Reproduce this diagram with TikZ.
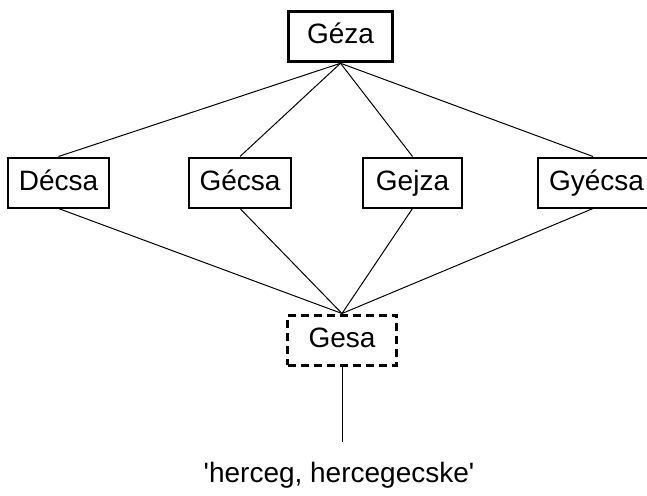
\documentclass[tikz,border=0pt]{standalone}
\usepackage{fontspec}
\setmainfont{Liberation Sans}
\usepackage{tikz}
\usetikzlibrary{positioning}

\begin{document}
\begin{tikzpicture}[x=1pt, y=-1pt,
            person/.style={draw=black, line width=2pt, rectangle, inner sep=0pt,
            minimum height=50pt, text height=21pt, text depth=6pt,
            font=\fontsize{28}{34}\selectfont},
            root/.style={person, line width=3.5pt},
            doubtful/.style={person, line width=3pt, dash pattern=on 8pt off 5pt},
            gloss/.style={font=\fontsize{28}{34}\selectfont, inner sep=0pt},
            link/.style={line width=1pt}]
        \useasboundingbox (0,0) rectangle (647,495);
        \node[root, minimum width=104pt] (geza) at (340.5,36.5) {Géza};
        \node[person, minimum width=101pt] (decsa) at (58.5,182.5) {Décsa};
        \node[person, minimum width=102pt] (gecsa) at (240,182.5) {Gécsa};
        \node[person, minimum width=99pt] (gejza) at (412.5,182.5) {Gejza};
        \node[person, minimum width=118pt, text width=96pt, align=left] (gyecsa) at (597,182.5) {Gyécsa};
        \node[doubtful, minimum width=109pt] (gesa) at (342,340) {Gesa};
        \coordinate (meaning-top) at (342,442);
        \node[gloss, anchor=base] (meaning) at (339,482) {\textquotesingle herceg, hercegecske\textquotesingle};

        \draw[link] (geza.south) -- (decsa.north);
        \draw[link] (geza.south) -- (gecsa.north);
        \draw[link] (geza.south) -- (gejza.north);
        \draw[link] (geza.south) -- ([xshift=-4pt]gyecsa.north);
        \draw[link] (decsa.south) -- (gesa.north);
        \draw[link] (gecsa.south) -- (gesa.north);
        \draw[link] (gejza.south) -- (gesa.north);
        \draw[link] ([xshift=-4pt]gyecsa.south) -- (gesa.north);
        \draw[link] (gesa.south) -- (meaning-top);
    \end{tikzpicture}
\end{document}
